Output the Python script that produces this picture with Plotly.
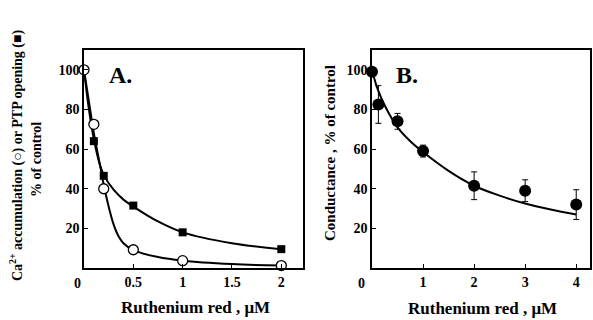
import plotly.graph_objects as go

# ---------------- Data: panel A ----------------
a_x = [0, 0.1, 0.2, 0.5, 1, 2]
a_ca = [100, 72.5, 40, 9.2, 3.7, 1.2]          # open circles: Ca2+ accumulation
a_ptp = [100, 64, 46.5, 31.5, 18, 9.5]          # filled squares: PTP opening

a_ca_fit_x = [0, 0.05, 0.1, 0.15, 0.2, 0.25, 0.3, 0.35, 0.4, 0.5, 0.75, 1, 1.5, 2]
a_ca_fit_y = [100, 84, 68, 55, 42, 31, 22, 16, 12.5, 9, 5.5, 3.7, 2, 1.2]
a_ptp_fit_x = [0, 0.05, 0.1, 0.15, 0.2, 0.3, 0.4, 0.5, 0.75, 1, 1.5, 2]
a_ptp_fit_y = [100, 80, 65, 54, 47, 39.5, 34.5, 31, 23.5, 18, 12.5, 9.5]

a_xticks = [0.5, 1, 1.5, 2]
a_xticklabels = ["0.5", "1", "1.5", "2"]

# ---------------- Data: panel B ----------------
b_x = [0, 0.125, 0.5, 1, 2, 3, 4]
b_y = [99, 82.5, 74, 59, 41.5, 39, 32]
b_err = [0, 9.5, 4, 3, 7, 5.5, 7.5]
b_fit_x = [0, 0.1, 0.25, 0.5, 0.75, 1, 1.5, 2, 2.5, 3, 3.5, 4]
b_fit_y = [100, 91, 82, 71, 64, 58.5, 49, 41.5, 36.5, 32.5, 29.5, 27]

b_xticks = [1, 2, 3, 4]
b_xticklabels = ["1", "2", "3", "4"]

y_ticks = [20, 40, 60, 80, 100]

FONT = "Liberation Serif"
W, H = 593, 320

def px_x(p):
    return p / W

def px_y(p):
    return 1 - p / H

fig = go.Figure()

# Panel A curves
fig.add_trace(go.Scatter(x=a_ptp_fit_x, y=a_ptp_fit_y, mode="lines", line=dict(color="black", width=2, shape="spline"),
                         xaxis="x", yaxis="y", showlegend=False, hoverinfo="skip"))
fig.add_trace(go.Scatter(x=a_ca_fit_x, y=a_ca_fit_y, mode="lines", line=dict(color="black", width=2, shape="spline"),
                         xaxis="x", yaxis="y", showlegend=False, hoverinfo="skip"))
fig.add_trace(go.Scatter(x=a_x, y=a_ptp, mode="markers",
                         marker=dict(symbol="square", size=8, color="black"),
                         xaxis="x", yaxis="y", showlegend=False))
fig.add_trace(go.Scatter(x=a_x, y=a_ca, mode="markers",
                         marker=dict(symbol="circle", size=10, color="white", line=dict(color="black", width=1.3)),
                         xaxis="x", yaxis="y", showlegend=False, cliponaxis=False))

# Panel B
fig.add_trace(go.Scatter(x=b_fit_x, y=b_fit_y, mode="lines", line=dict(color="black", width=2, shape="spline"),
                         xaxis="x2", yaxis="y2", showlegend=False, hoverinfo="skip"))
fig.add_trace(go.Scatter(x=b_x, y=b_y, mode="markers",
                         marker=dict(symbol="circle", size=12, color="black"),
                         error_y=dict(type="data", array=b_err, visible=True, color="black", thickness=1, width=3),
                         xaxis="x2", yaxis="y2", showlegend=False, cliponaxis=False))

tickfont = dict(family=FONT, size=14, color="black", weight="bold")
axis_common = dict(showgrid=False, zeroline=False, showline=True, linecolor="black", linewidth=1.5,
                   mirror=True, ticks="inside", ticklen=4, tickcolor="black", tickwidth=1,
                   tickfont=tickfont)

yd = [1 - 268 / H, 1 - 50 / H]

fig.update_layout(
    width=W, height=H,
    margin=dict(l=0, r=0, t=0, b=0),
    paper_bgcolor="white", plot_bgcolor="white",
    xaxis=dict(domain=[px_x(84), px_x(303)], range=[0, 2.22], tickvals=a_xticks, ticktext=a_xticklabels,
               anchor="y", **axis_common),
    yaxis=dict(domain=yd, range=[0, 110], tickvals=y_ticks, anchor="x", **axis_common),
    xaxis2=dict(domain=[px_x(372), px_x(590)], range=[0, 4.27], tickvals=b_xticks, ticktext=b_xticklabels,
                anchor="y2", **axis_common),
    yaxis2=dict(domain=yd, range=[0, 110], tickvals=y_ticks, anchor="x2", **axis_common),
)

def ann(text, x, y, size, angle=0, xanchor="center", yanchor="middle"):
    fig.add_annotation(text=text, x=px_x(x), y=px_y(y), xref="paper", yref="paper",
                       showarrow=False, textangle=angle, xanchor=xanchor, yanchor=yanchor,
                       font=dict(family=FONT, size=size, color="black", weight="bold"))

# Origin labels
ann("0", 77, 283, 14)
ann("0", 361, 283, 14)
# Panel letters
ann("A.", 120, 75, 24)
ann("B.", 407, 75, 24)
# Axis titles
ann("Ruthenium red , μM", 195, 307, 17)
ann("Ruthenium red , μM", 482, 308, 17)
ann("Ca<sup>2+</sup> accumulation (○) or PTP opening (■)", 16, 156, 14, angle=-90)
ann("% of control", 36, 160, 14, angle=-90)
ann("Conductance , % of control", 330, 153, 15, angle=-90)

fig.write_html("out.html", config={"displayModeBar": False},
               post_script="document.body.style.margin='0';document.body.style.overflow='hidden';")
